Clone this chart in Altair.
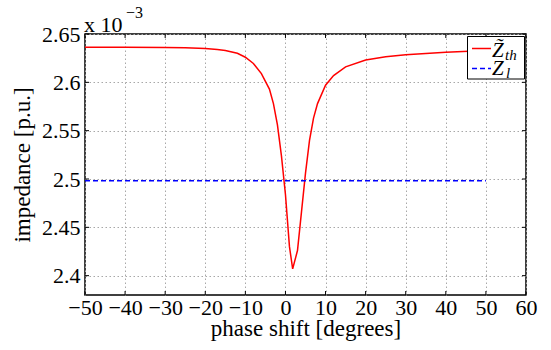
import altair as alt
import pandas as pd

# Thevenin impedance vs. phase shift (values in units of 1e-3 p.u.)
phase = [-50, -40, -30, -25, -20, -17, -15, -12, -10, -8, -6, -5, -4, -3, -2, -1,
         0, 1, 1.8, 3, 4, 5, 6, 7, 8, 10, 12, 15, 20, 25, 30, 40, 50]
z_th = [2.6364, 2.6363, 2.6361, 2.6358, 2.6350, 2.6340, 2.6330, 2.6300, 2.6260,
        2.6195, 2.6090, 2.6010, 2.5930, 2.5780, 2.5560, 2.5240, 2.4840, 2.4300,
        2.4070, 2.4260, 2.4660, 2.5060, 2.5400, 2.5630, 2.5780, 2.5970, 2.6070,
        2.6160, 2.6230, 2.6265, 2.6285, 2.6310, 2.6330]

# Load impedance (constant)
phase_l = [-50, 50]
z_l = [2.4983, 2.4983]

x_ticks = [-50, -40, -30, -20, -10, 0, 10, 20, 30, 40, 50, 60]
y_ticks = [2.4, 2.45, 2.5, 2.55, 2.6, 2.65]

W, H = 441, 261
FONT = "Liberation Serif"

xs = alt.Scale(domain=[-50, 60], nice=False, zero=False)
ys = alt.Scale(domain=[2.38, 2.65], nice=False, zero=False)

th_df = pd.DataFrame({"phase": phase, "z": z_th})
l_df = pd.DataFrame({"phase": phase_l, "z": z_l})
xt_df = pd.DataFrame({"t": x_ticks})
yt_df = pd.DataFrame({"t": y_ticks})

x_axis = alt.Axis(
    values=x_ticks, grid=True, ticks=False, domain=False,
    labelExpr="replace(format(datum.value, 'd'), '-', '\u2212')",
    labelFont=FONT, labelFontSize=22, labelColor="black",
    labelPadding=2, labelFlush=False,
    title="phase shift [degrees]", titleX=W / 2, titleY=40,
    titleBaseline="alphabetic", titleAlign="center",
)
y_axis = alt.Axis(
    values=y_ticks, grid=True, ticks=False, domain=False, format=".2~f",
    labelFont=FONT, labelFontSize=22, labelColor="black",
    labelPadding=5, labelFlush=False,
    title="impedance [p.u.]", titleAngle=270, titleX=-63, titleY=H / 2,
    titleBaseline="middle", titleAlign="center",
)

zth_line = alt.Chart(th_df).mark_line(color="#ff0000", strokeWidth=1.5).encode(
    x=alt.X("phase:Q", scale=xs, axis=x_axis),
    y=alt.Y("z:Q", scale=ys, axis=y_axis),
)

zl_line = alt.Chart(l_df).mark_line(
    color="#0000ff", strokeWidth=1.5, strokeDash=[5, 3]
).encode(x=alt.X("phase:Q", scale=xs), y=alt.Y("z:Q", scale=ys))

# inward tick marks on all four sides
tk = 4
xt_bottom = alt.Chart(xt_df).mark_rule(color="black", strokeWidth=1).encode(
    x=alt.X("t:Q", scale=xs), y=alt.value(H), y2=alt.value(H - tk))
xt_top = alt.Chart(xt_df).mark_rule(color="black", strokeWidth=1).encode(
    x=alt.X("t:Q", scale=xs), y=alt.value(0), y2=alt.value(tk))
yt_left = alt.Chart(yt_df).mark_rule(color="black", strokeWidth=1).encode(
    y=alt.Y("t:Q", scale=ys), x=alt.value(0), x2=alt.value(tk))
yt_right = alt.Chart(yt_df).mark_rule(color="black", strokeWidth=1).encode(
    y=alt.Y("t:Q", scale=ys), x=alt.value(W), x2=alt.value(W - tk))

# exponent annotation
one = pd.DataFrame({"k": [0]})
exp_base = alt.Chart(one).mark_text(
    font=FONT, fontSize=22, align="left", baseline="alphabetic", color="black"
).encode(x=alt.value(-1), y=alt.value(-2), text=alt.value("x 10"))
exp_sup = alt.Chart(one).mark_text(
    font=FONT, fontSize=16, align="left", baseline="alphabetic", color="black"
).encode(x=alt.value(41), y=alt.value(-16), text=alt.value("\u22123"))

# legend
LX0, LX1, LY0, LY1 = 382.5, 439.5, 2.5, 45
leg_box = alt.Chart(one).mark_rect(fill="white", stroke="black", strokeWidth=1).encode(
    x=alt.value(LX0), x2=alt.value(LX1), y=alt.value(LY0), y2=alt.value(LY1))
leg_red = alt.Chart(one).mark_rule(color="#ff0000", strokeWidth=1.5).encode(
    x=alt.value(387), x2=alt.value(406), y=alt.value(14.5))
leg_blue = alt.Chart(one).mark_rule(color="#0000ff", strokeWidth=1.5, strokeDash=[5, 3]).encode(
    x=alt.value(387), x2=alt.value(406), y=alt.value(34.5))


def txt(s, x, y, size, style="italic"):
    return alt.Chart(one).mark_text(
        font=FONT, fontSize=size, fontStyle=style, align="left",
        baseline="alphabetic", color="black"
    ).encode(x=alt.value(x), y=alt.value(y), text=alt.value(s))


leg_z1 = txt("Z\u0303", 407, 22.5, 21)
leg_th = txt("th", 420, 26, 15)
leg_z2 = txt("Z", 407, 41, 21)
leg_l = txt("l", 421, 44, 15)

chart = alt.layer(
    zth_line, zl_line, xt_bottom, xt_top, yt_left, yt_right,
    exp_base, exp_sup,
    leg_box, leg_red, leg_blue, leg_z1, leg_th, leg_z2, leg_l,
).properties(
    width=W, height=H,
    autosize=alt.AutoSizeParams(type="none"),
    padding={"left": 85, "top": 34, "right": 551 - 85 - W, "bottom": 350 - 34 - H},
    background="white",
).configure_view(
    stroke="black", strokeWidth=1.5
).configure_axis(
    labelFont=FONT, labelFontSize=22, labelColor="black",
    titleFont=FONT, titleFontSize=23, titleFontWeight="normal", titleColor="black",
    gridColor="#a8a8a8", gridDash=[1.5, 2.5], gridWidth=1,
)

chart.save("out.html", embed_options={"renderer": "svg", "actions": False})
